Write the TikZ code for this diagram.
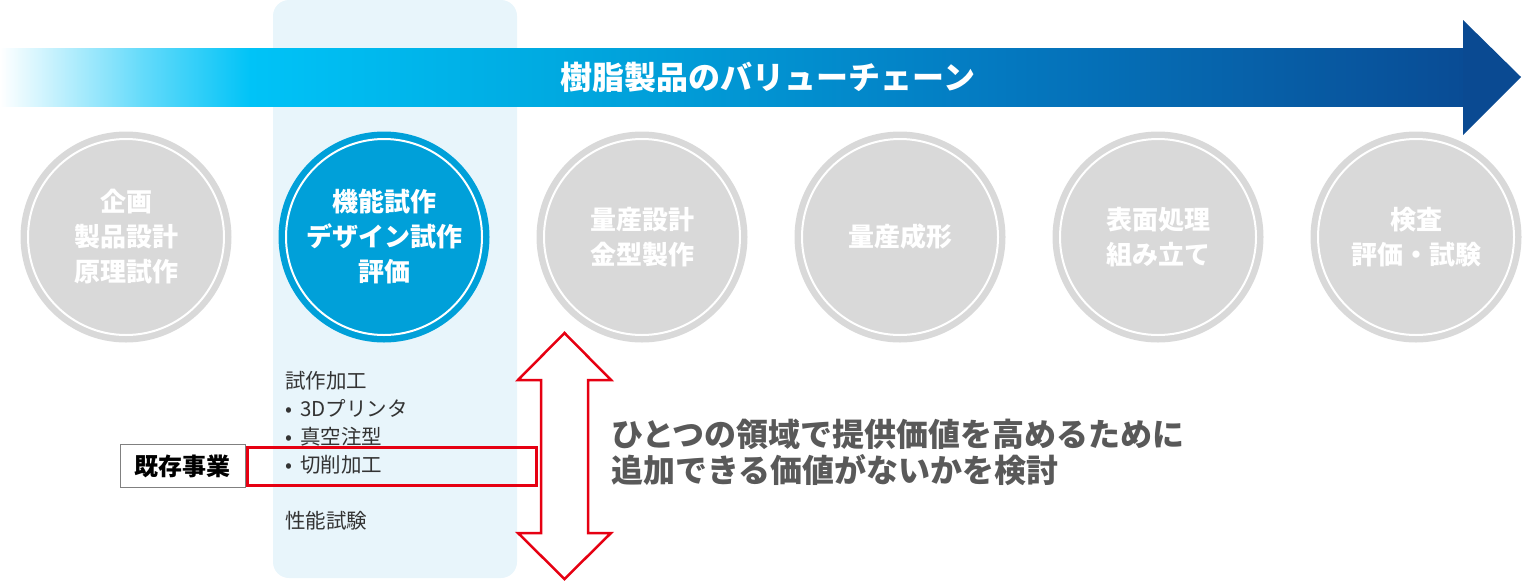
\documentclass[tikz,border=0pt]{standalone}
\usepackage{fontspec}
\newfontfamily\jp{Noto Sans CJK JP}
\usetikzlibrary{calc}
\definecolor{colbg}{HTML}{E8F5FB}
\definecolor{cgray}{HTML}{D9D9D9}
\definecolor{cblue}{HTML}{00A0D9}
\definecolor{gA}{HTML}{00C3F7}
\definecolor{gB}{HTML}{00A9E0}
\definecolor{gC}{HTML}{0479C0}
\definecolor{gD}{HTML}{094C95}
\definecolor{ghead}{HTML}{0A4A92}
\definecolor{redc}{HTML}{E60012}
\definecolor{txtdark}{HTML}{333333}
\definecolor{txtmain}{HTML}{595959}
\tikzset{
  stage/.style={circle, fill=cgray, minimum size=211pt, inner sep=0pt, text=white, align=center,
    font=\jp\bfseries\fontsize{26}{35}\selectfont},
  stageact/.style={stage, fill=cblue},
  ring/.style={draw=white, line width=2pt},
  listtxt/.style={anchor=base west, inner sep=0pt, text=txtdark, font=\jp\fontsize{20.5}{28}\selectfont},
  maintxt/.style={anchor=base west, inner sep=0pt, text=txtmain, font=\jp\bfseries\fontsize{32}{36}\selectfont},
}
\newcommand{\bul}{\makebox[15pt][l]{•}}
\begin{document}
\begin{tikzpicture}[x=1pt,y=-1pt]
\useasboundingbox (0,0) rectangle (1536,582);
% highlighted column
\fill[colbg, rounded corners=16pt] (273,0) rectangle (517,578);
% value chain arrow
\shade[left color=white, right color=white!40!gA] (0,48) rectangle (141,106);
\shade[left color=white!40!gA, right color=gA] (140,48) rectangle (251,106);
\shade[left color=gA, right color=gB] (250,48) rectangle (561,106);
\shade[left color=gB, right color=gC] (560,48) rectangle (1001,106);
\shade[left color=gC, right color=gD] (1000,48) rectangle (1464,106);
\fill[ghead] (1463,20) -- (1521,77) -- (1463,135) -- cycle;
\node[text=white, font=\jp\bfseries\fontsize{32}{36}\selectfont] (title) at (768,77) {樹脂製品のバリューチェーン};
% stages
\node[stage] (s1) at (126,237) {企画\\製品設計\\原理試作};
\node[stageact] (s2) at (384,237) {機能試作\\デザイン試作\\評価};
\node[stage] (s3) at (642,237) {量産設計\\金型製作};
\node[stage] (s4) at (900,237) {量産成形};
\node[stage] (s5) at (1158,237) {表面処理\\組み立て};
\node[stage] (s6) at (1416,237) {検査\\評価・試験};
\foreach \s in {s1,s2,s3,s4,s5,s6} \draw[ring] (\s.center) circle (98pt);
% list
\node[listtxt] (l1) at (285,388.6) {試作加工};
\node[listtxt] (l2) at (285,416.6) {\bul 3Dプリンタ};
\node[listtxt] (l3) at (285,444.6) {\bul 真空注型};
\node[listtxt] (l4) at (285,472.6) {\bul 切削加工};
\node[listtxt] (l5) at (285,528.6) {性能試験};
% existing business
\node[draw=redc, line width=3pt, minimum width=289pt, minimum height=38pt, inner sep=0pt] (exbox) at (391.5,466) {};
\node[draw=gray, line width=1pt, fill=white, minimum width=125pt, minimum height=43pt, inner sep=0pt,
  font=\jp\bfseries\fontsize{24}{26}\selectfont, text=black, anchor=east] (exlbl) at (exbox.west) {既存事業};
% double arrow
\filldraw[draw=redc, fill=white, line width=2.5pt, miter limit=10]
  (564.5,333) -- (611,380) -- (588,380) -- (588,533) -- (611,533) -- (564.5,579)
  -- (518,533) -- (541,533) -- (541,380) -- (518,380) -- cycle;
% main text
\node[maintxt] (m1) at (611,446.2) {ひとつの領域で提供価値を高めるために};
\node[maintxt] (m2) at (611,482.2) {追加できる価値がないかを検討};
\end{tikzpicture}
\end{document}
